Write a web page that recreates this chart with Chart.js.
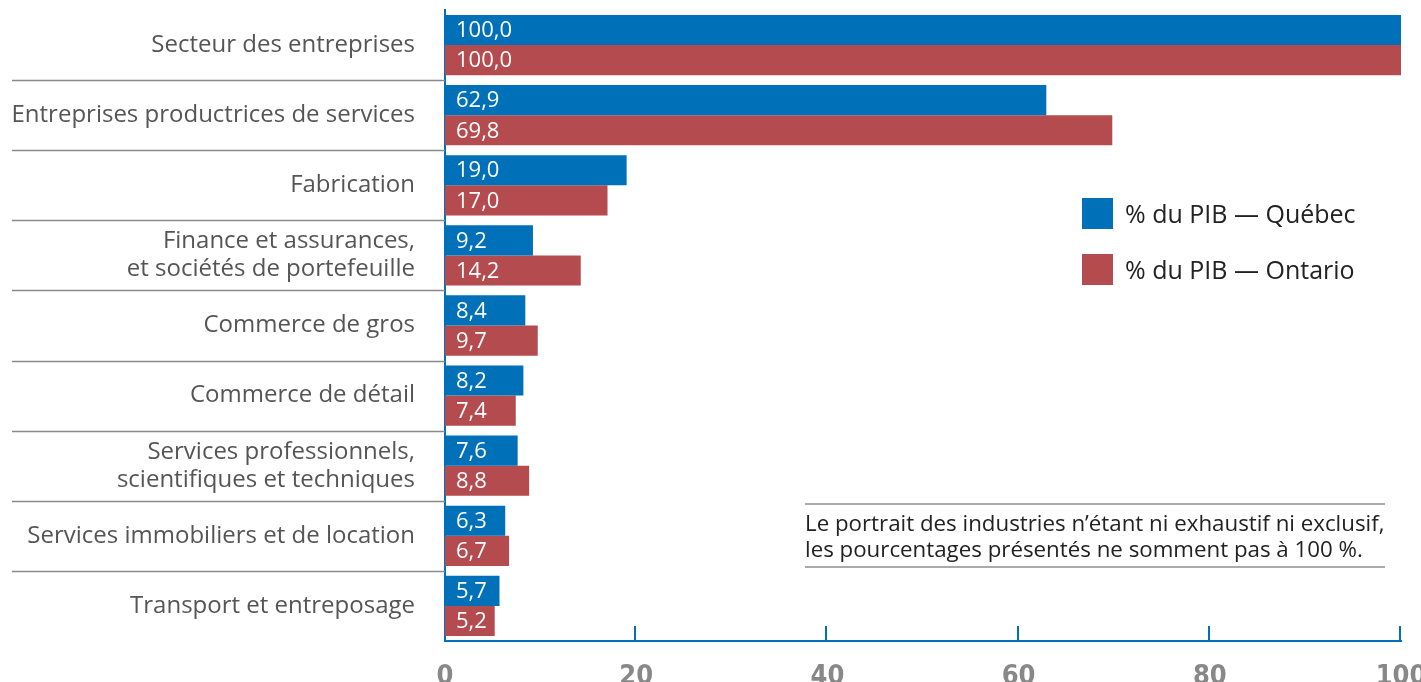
<!DOCTYPE html>
<html lang="fr">
<head>
<meta charset="utf-8">
<script src="https://cdn.jsdelivr.net/npm/chart.js@4/dist/chart.umd.min.js"></script>
<style>
  html, body { margin: 0; padding: 0; background: #fff; }
  #wrap { position: relative; width: 1421px; height: 682px; }
  #pibChart { position: absolute; left: 0; top: 0; }
  .legend-item { position: absolute; left: 1082px; font: 25px "Open Sans", sans-serif; color: #222; white-space: nowrap; line-height: 31px; }
  .legend-item span { display: inline-block; width: 31px; height: 31px; vertical-align: top; margin-right: 12px; }
  #note { position: absolute; left: 805px; top: 503px; width: 580px; border-top: 2px solid #aaa; border-bottom: 2px solid #aaa;
    font: 22.3px "Open Sans", sans-serif; color: #222; line-height: 26px; padding: 5px 0 4px 0; white-space: nowrap; }
</style>
</head>
<body>
<div id="wrap">
  <canvas id="pibChart" width="1421" height="682"></canvas>
  <div class="legend-item" style="top:198px"><span style="background:#0071b9"></span>% du PIB — Québec</div>
  <div class="legend-item" style="top:254px"><span style="background:#b44b4f"></span>% du PIB — Ontario</div>
  <div id="note">Le portrait des industries n’étant ni exhaustif ni exclusif,<br>les pourcentages présentés ne somment pas à 100 %.</div>
</div>
<script>
const categories = [
  "Secteur des entreprises",
  "Entreprises productrices de services",
  "Fabrication",
  ["Finance et assurances,", "et sociétés de portefeuille"],
  "Commerce de gros",
  "Commerce de détail",
  ["Services professionnels,", "scientifiques et techniques"],
  "Services immobiliers et de location",
  "Transport et entreposage"
];
const quebecValues = [100.0, 62.9, 19.0, 9.2, 8.4, 8.2, 7.6, 6.3, 5.7];
const ontarioValues = [100.0, 69.8, 17.0, 14.2, 9.7, 7.4, 8.8, 6.7, 5.2];
const xTicks = [0, 20, 40, 60, 80, 100];

const BLUE = "#0071b9";
const RED = "#b44b4f";

function formatValue(v) {
  return v.toFixed(1).replace(".", ",");
}

// separators between categories, inner ticks, value labels
const decorPlugin = {
  id: "decor",
  afterDatasetsDraw(chart) {
    const { ctx, chartArea, scales } = chart;
    ctx.save();
    ctx.font = '22px "Open Sans", sans-serif';
    ctx.fillStyle = "#fff";
    ctx.textBaseline = "middle";
    ctx.textAlign = "left";
    chart.data.datasets.forEach((ds, di) => {
      chart.getDatasetMeta(di).data.forEach((bar, i) => {
        ctx.fillText(formatValue(ds.data[i]), chartArea.left + 11, bar.y + 1);
      });
    });

    ctx.strokeStyle = "#8a8a8a";
    ctx.lineWidth = 1.5;
    const y = scales.y;
    for (let i = 1; i < categories.length; i++) {
      const py = Math.round((y.getPixelForValue(i - 1) + y.getPixelForValue(i)) / 2) + 0.5;
      ctx.beginPath();
      ctx.moveTo(12, py);
      ctx.lineTo(chartArea.left, py);
      ctx.stroke();
    }

    ctx.strokeStyle = BLUE;
    ctx.lineWidth = 2;
    xTicks.slice(1).forEach((t) => {
      const px = Math.round(scales.x.getPixelForValue(t)) - 1;
      ctx.beginPath();
      ctx.moveTo(px, chartArea.bottom);
      ctx.lineTo(px, chartArea.bottom - 15);
      ctx.stroke();
    });
    ctx.restore();
  }
};

new Chart(document.getElementById("pibChart"), {
  type: "bar",
  data: {
    labels: categories,
    datasets: [
      { label: "% du PIB — Québec", data: quebecValues, backgroundColor: BLUE },
      { label: "% du PIB — Ontario", data: ontarioValues, backgroundColor: RED }
    ]
  },
  options: {
    indexAxis: "y",
    responsive: false,
    animation: false,
    layout: { padding: { top: 10, right: 20, left: 0, bottom: 0 } },
    datasets: { bar: { categoryPercentage: 0.86, barPercentage: 1.0 } },
    plugins: { legend: { display: false }, tooltip: { enabled: false } },
    scales: {
      x: {
        min: 0,
        max: 100,
        afterBuildTicks(scale) {
          scale.ticks = xTicks.map((v) => ({ value: v }));
        },
        afterFit(scale) {
          scale.height = 41;
          scale.paddingLeft = 0;
          scale.paddingRight = 0;
        },
        grid: { display: false },
        border: { display: true, color: BLUE, width: 2 },
        ticks: {
          color: "#888",
          padding: 12,
          maxRotation: 0,
          font: { family: '"Liberation Sans Narrow", "DejaVu Sans Condensed", sans-serif', size: 27, weight: "bold" }
        }
      },
      y: {
        afterFit(scale) {
          scale.width = 445;
          scale.paddingTop = 0;
          scale.paddingBottom = 0;
        },
        grid: { display: false },
        border: { display: true, color: BLUE, width: 2 },
        ticks: {
          color: "#555",
          padding: 22,
          font: { family: '"Open Sans", sans-serif', size: 24, lineHeight: 1.17 }
        }
      }
    }
  },
  plugins: [decorPlugin]
});
</script>
</body>
</html>
